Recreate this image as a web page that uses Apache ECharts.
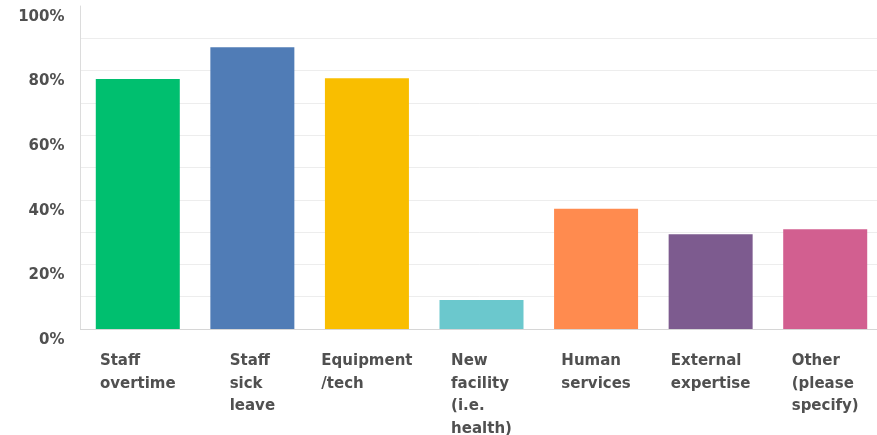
<!DOCTYPE html>
<html>
<head>
<meta charset="utf-8">
<script src="https://cdn.jsdelivr.net/npm/echarts@6/dist/echarts.min.js"></script>
<style>
  html, body { margin: 0; padding: 0; background: #fff; }
  #main { width: 877px; height: 435px; }
</style>
</head>
<body>
<div id="main"></div>
<script>
// categories (line breaks as in the picture)
var categories = [
  'Staff\novertime',
  'Staff\nsick\nleave',
  'Equipment\n/tech',
  'New\nfacility\n(i.e.\nhealth)',
  'Human\nservices',
  'External\nexpertise',
  'Other\n(please\nspecify)'
];
// percent of responses
var values = [77.4, 87.2, 77.6, 9.0, 37.2, 29.3, 30.9];
var barColors = ['#00bf6f', '#507cb6', '#f9be00', '#6bc8cd', '#ff8b4f', '#7d5b8f', '#d25f90'];

var myChart = echarts.init(document.getElementById('main'));

var options = {
  animation: false,
  grid: {
    left: 80.5,
    width: 802,
    top: 6,
    bottom: 106,
    containLabel: false,
    outerBoundsMode: 'none'
  },
  xAxis: {
    type: 'category',
    data: categories,
    axisTick: { show: false },
    axisLine: { show: true, lineStyle: { color: '#d6d6d6', width: 1 } },
    axisLabel: {
      interval: 0,
      margin: 21,
      align: 'center',
      verticalAlign: 'top',
      formatter: function (v) {
        return v.split('\n').map(function (s) { return '{a|' + s + '}'; }).join('\n');
      },
      rich: {
        a: {
          align: 'left',
          color: '#505050',
          fontFamily: 'DejaVu Sans',
          fontWeight: 'bold',
          fontSize: 15,
          lineHeight: 22.5
        }
      }
    }
  },
  yAxis: {
    type: 'value',
    min: 0,
    max: 100,
    interval: 10,
    axisLine: { show: true, lineStyle: { color: '#dcdcdc', width: 1 } },
    axisTick: { show: false },
    splitLine: { show: true, showMaxLine: false, lineStyle: { color: '#ededed', width: 1 } },
    axisLabel: {
      margin: 16,
      color: '#505050',
      fontFamily: 'DejaVu Sans',
      fontWeight: 'bold',
      fontSize: 15,
      verticalAlign: 'top',
      lineHeight: 22,
      formatter: function (v) {
        return v % 20 === 0 ? v + '%' : '';
      }
    }
  },
  series: [{
    type: 'bar',
    barWidth: 84,
    data: values.map(function (v, i) {
      return { value: v, itemStyle: { color: barColors[i] } };
    })
  }]
};

myChart.setOption(options);
</script>
</body>
</html>
